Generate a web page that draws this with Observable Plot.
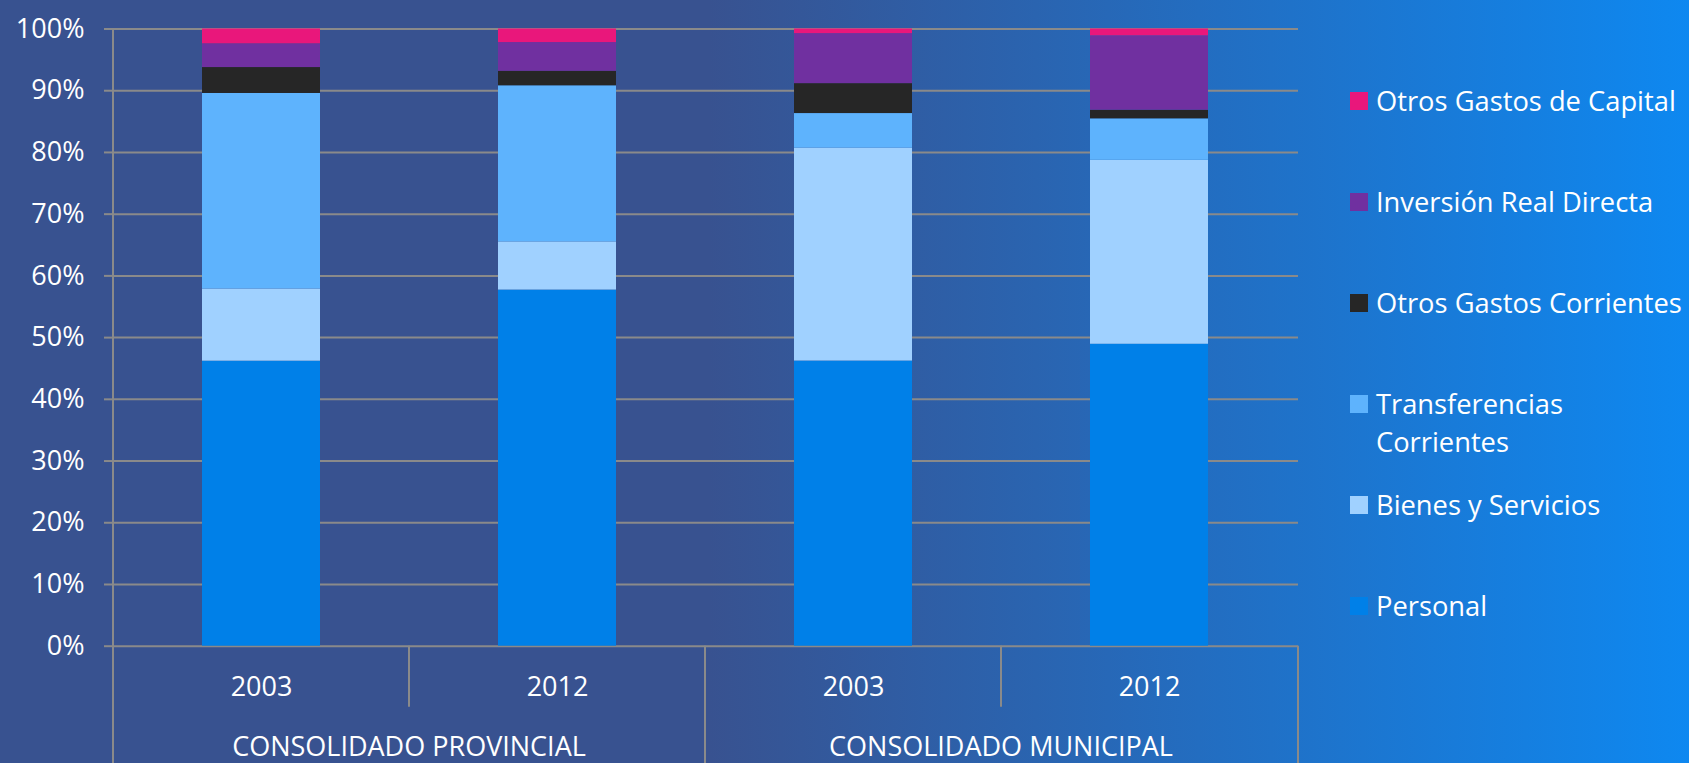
<!DOCTYPE html>
<html>
<head>
<meta charset="utf-8">
<script src="https://cdn.jsdelivr.net/npm/d3@7"></script>
<script src="https://cdn.jsdelivr.net/npm/@observablehq/plot@0.6"></script>
<style>
html, body { margin: 0; padding: 0; }
body {
  width: 1689px; height: 763px; overflow: hidden;
  background: linear-gradient(to right, #385290 0%, #385290 42%, #0E88F0 100%);
  font-family: "Open Sans", sans-serif;
}
#wrap { position: relative; width: 1689px; height: 763px; }
#wrap svg { display: block; position: absolute; left: 0; top: 0; }
#legend { position: absolute; left: 1350px; top: 82px; }
.item { height: 101px; display: flex; align-items: flex-start; }
.sw { width: 18px; height: 18px; margin-top: 10px; margin-right: 8px; flex: none; }
.lbl { color: #fff; font-size: 27.3px; line-height: 38px; white-space: pre-line; }
</style>
</head>
<body>
<div id="wrap"><div id="legend"></div></div>
<script>
// ---- data ----
const groups = ["CONSOLIDADO PROVINCIAL", "CONSOLIDADO MUNICIPAL"];
const years = ["2003", "2012"];
const series = ["Personal", "Bienes y Servicios", "Transferencias Corrientes",
                "Otros Gastos Corrientes", "Inversión Real Directa", "Otros Gastos de Capital"];
const colors = ["#0080E8", "#A0D1FF", "#5EB3FD", "#262626", "#7030A0", "#E9177B"];
// values per bar: Prov 2003, Prov 2012, Muni 2003, Muni 2012 (percent)
const personal        = [46.2, 57.7, 46.2, 48.9];
const bienes          = [11.7,  7.8, 34.5, 29.8];
const transferencias  = [31.7, 25.3,  5.6,  6.7];
const otrosCorrientes = [ 4.2,  2.35, 4.85, 1.4];
const inversion       = [ 3.85, 4.65, 8.1, 12.05];
const otrosCapital    = [ 2.4,  2.2,  0.75, 1.1];
const yTicks = [0, 0.1, 0.2, 0.3, 0.4, 0.5, 0.6, 0.7, 0.8, 0.9, 1];

const seriesValues = [personal, bienes, transferencias, otrosCorrientes, inversion, otrosCapital];
const keys = groups.flatMap(g => years.map(y => g + "|" + y));
const data = [];
series.forEach((s, si) => {
  keys.forEach((k, ki) => {
    data.push({key: k, group: k.split("|")[0], year: k.split("|")[1], series: s, value: seriesValues[si][ki]});
  });
});

const lineColor = "#8a8a8a";

function frameLines(index, scales, values, dims) {
  const {width, height, marginLeft: ml, marginRight: mr, marginTop: mt} = dims;
  const x = scales.x, y = scales.y;
  const bw = typeof x.bandwidth === "function" ? x.bandwidth() : (x.bandwidth || 0);
  const centers = keys.map(k => x(k) + bw / 2);
  const y0 = y(0);
  const g = d3.create("svg:g");
  const line = (xp, a, b) => g.append("line")
    .attr("x1", xp).attr("x2", xp).attr("y1", a).attr("y2", b)
    .attr("stroke", lineColor).attr("stroke-width", 2);
  // left axis line
  line(ml, mt, height);
  // boundaries between bars
  for (let i = 0; i < keys.length - 1; i++) {
    const xb = (centers[i] + centers[i + 1]) / 2;
    const sameGroup = keys[i].split("|")[0] === keys[i + 1].split("|")[0];
    line(xb, y0, sameGroup ? y0 + 61 : height);
  }
  // right edge
  line(width - mr, y0, height);
  // group labels
  groups.forEach(gr => {
    const cs = keys.map((k, i) => k.split("|")[0] === gr ? centers[i] : null).filter(v => v != null);
    g.append("text")
      .attr("x", d3.mean(cs)).attr("y", y0 + 110)
      .attr("text-anchor", "middle")
      .attr("fill", "#fff")
      .attr("font-size", 27)
      .attr("font-family", "Open Sans, sans-serif")
      .text(gr);
  });
  return g.node();
}

const plot = Plot.plot({
  width: 1689,
  height: 763,
  marginLeft: 113,
  marginRight: 391,
  marginTop: 28.5,
  marginBottom: 117.3,
  style: {background: "transparent", color: "#fff", fontFamily: "Open Sans, sans-serif", fontSize: "27px", overflow: "visible"},
  x: {domain: keys, paddingInner: 0.6, paddingOuter: 0.3, axis: null, label: null},
  y: {domain: [0, 1], axis: null, label: null},
  color: {domain: series, range: colors},
  marks: [
    Plot.gridY(yTicks, {stroke: lineColor, strokeOpacity: 1, strokeWidth: 2}),
    Plot.barY(data, Plot.stackY({order: series, offset: "normalize"}, {x: "key", y: "value", z: "series", fill: "series"})),
    Plot.axisY(yTicks, {label: null, tickFormat: d3.format(".0%"), tickSize: 9, tickPadding: 20, stroke: lineColor, strokeWidth: 2, fill: "#fff", fontSize: 27}),
    Plot.axisX({label: null, tickSize: 0, tickPadding: 31, tickFormat: k => k.split("|")[1], fill: "#fff", fontSize: 27}),
    frameLines
  ]
});
const wrap = document.getElementById("wrap");
wrap.insertBefore(plot, wrap.firstChild);

// legend (top to bottom: reverse stack order)
const legend = d3.select("#legend");
series.slice().reverse().forEach(s => {
  const item = legend.append("div").attr("class", "item");
  item.append("div").attr("class", "sw").style("background", colors[series.indexOf(s)]);
  item.append("div").attr("class", "lbl").text(s === "Transferencias Corrientes" ? "Transferencias\nCorrientes" : s);
});
</script>
</body>
</html>
